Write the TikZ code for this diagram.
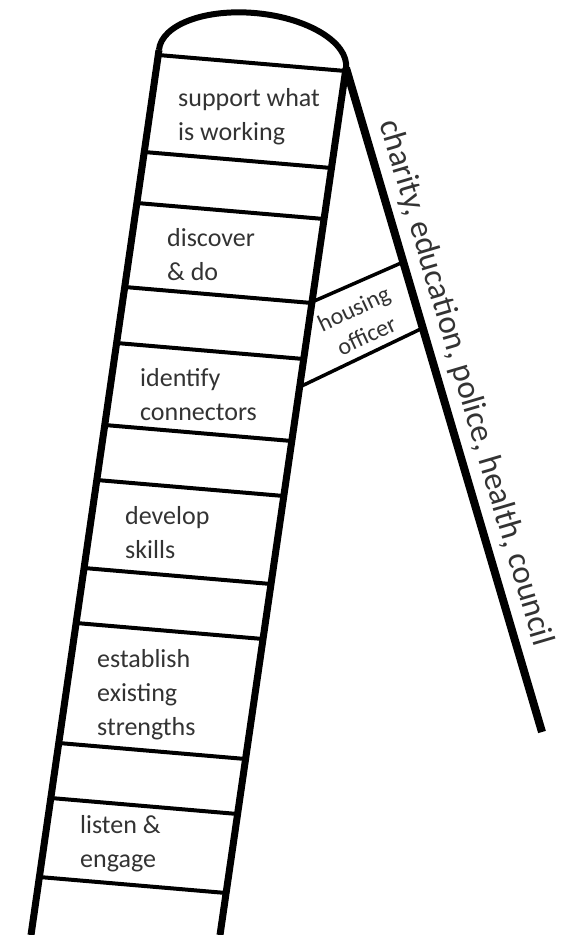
\documentclass[tikz,border=0pt]{standalone}
\usepackage{fontspec}
\setmainfont{Carlito}
\begin{document}
\begin{tikzpicture}[x=1pt,y=-1pt,
    rail/.style={line width=7pt},
    rung/.style={line width=4pt},
    steptext/.style={anchor=base west, inner sep=0pt, align=left, text=black!80,
        font=\fontsize{26}{34}\selectfont}]
    \useasboundingbox (0,0) rectangle (570,935);
    % rails and leg
    \coordinate (lt) at (159,50);
    \coordinate (lb) at (31,935);
    \coordinate (rt) at (346,68);
    \coordinate (rb) at (220,935);
    \coordinate (foot) at (542,732);
    \draw[rail] (lt) -- (lb);
    \draw[rail] (rt) -- (rb);
    \draw[line width=8pt] (rt) -- (foot);
    % rounded top
    \begin{scope}[shift={(252.5,59)}, rotate=-5.5]
        \draw[line width=6pt] (-94,0) arc[start angle=180, end angle=360, x radius=94, y radius=46];
    \end{scope}
    % rungs
    \foreach \y in {55,152,203,287,343,425,480,568,623,743,798,877} {
        \draw[rung] ({159-0.1446*(\y-50)},\y) -- ({346-0.1453*(\y-52)},{\y+16});
    }
    % housing officer box
    \coordinate (ht1) at (312,302);
    \coordinate (ht2) at (403.3,262);
    \coordinate (hb1) at (299.6,387);
    \coordinate (hb2) at (422.8,328);
    \draw[line width=3.5pt] (ht1) -- (ht2);
    \draw[line width=3.5pt] (hb1) -- (hb2);
    \node[rotate=25, align=center, inner sep=0pt, text=black!80,
        font=\fontsize{24}{30}\selectfont] (housing) at (360,322) {housing\\officer};
    % steps (anchored at the last line)
    \node[steptext] (support) at (178,140) {support what\\is working};
    \node[steptext] (discover) at (167,280) {discover\\\& do};
    \node[steptext] (identify) at (140,420) {identify\\connectors};
    \node[steptext] (develop) at (125,558) {develop\\skills};
    \node[steptext] (establish) at (97,735) {establish\\existing\\strengths};
    \node[steptext] (listen) at (80,867) {listen \&\\engage};
    % partners along the leg
    \path (rt) -- (foot) node[pos=0.485, sloped, above=11pt, inner sep=0pt, text=black!80,
        font=\fontsize{33}{40}\selectfont] (partners) {charity, education, police, health, council};
\end{tikzpicture}
\end{document}
